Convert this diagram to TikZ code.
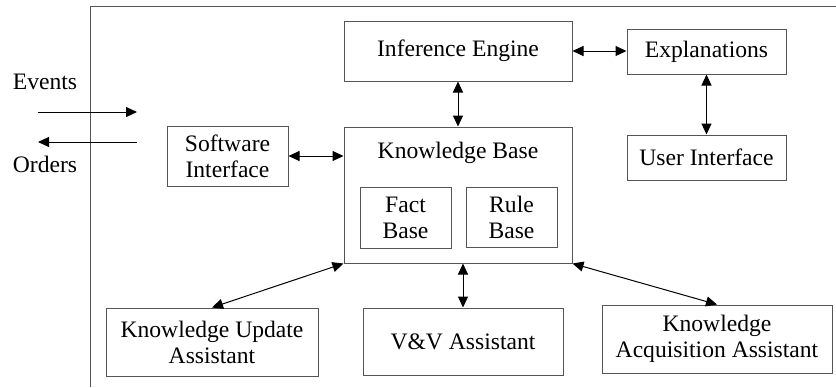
\documentclass[tikz,border=0pt]{standalone}
\usepackage{fontspec}
\setmainfont{Liberation Serif}
\usetikzlibrary{arrows.meta,positioning,calc}
\definecolor{edge}{HTML}{555555}

\begin{document}
\begin{tikzpicture}[
  x=0.5pt, y=-0.5pt,
  every node/.style={font=\fontsize{11.8}{13}\selectfont},
  block/.style={
    draw=edge, line width=0.5pt, align=center, inner sep=1pt
  },
  arr/.style={{Triangle[length=5.5pt,width=5pt]}-{Triangle[length=5.5pt,width=5pt]}, line width=0.5pt, draw=black},
  io/.style={-{Triangle[length=5.5pt,width=5pt]}, line width=0.5pt, draw=black}
]
  \useasboundingbox (0,0) rectangle (836,387);
  % open frame of the system
  \draw[edge, line width=0.5pt] (90,387) -- (90,6) -- (836,6);

  \node[block, minimum width=114pt, minimum height=30pt] (engine) at (458,51) {Inference Engine};
  \node[block, minimum width=79.5pt, minimum height=22.5pt] (expl) at (706.5,51.5) {Explanations};
  \node[block, minimum width=79.5pt, minimum height=22.5pt] (ui) at (706.5,157.5) {User Interface};
  \node[block, minimum width=60.5pt, minimum height=30pt] (soft) at (227.5,156) {Software\\Interface};
  \node[block, minimum width=114pt, minimum height=68pt] (kb) at (458,195) {};
  \node (kbtitle) at (458,153) {Knowledge Base};
  \node[block, minimum width=45.5pt, minimum height=30.5pt] (fact) at (405.5,217.5) {Fact\\Base};
  \node[block, minimum width=45.5pt, minimum height=30pt] (rule) at (511.5,217) {Rule\\Base};
  \node[block, minimum width=106pt, minimum height=34pt] (update) at (212,342) {Knowledge Update\\Assistant};
  \node[block, minimum width=100pt, minimum height=33.5pt] (vv) at (463,341.5) {V\&V Assistant};
  \node[block, minimum width=115pt, minimum height=34pt] (acq) at (717,339) {Knowledge\\Acquisition Assistant};

  \node (events) at (45,82) {Events};
  \node (orders) at (45,164) {Orders};
  \coordinate (evout) at (38,112);
  \coordinate (evin)  at (137,112);
  \coordinate (orout) at (38,142);
  \coordinate (orin)  at (137,142);

  \draw[io] (evout) -- (evin);
  \draw[io] (orin) -- (orout);

  \draw[arr] (engine.south) -- (kb.north);
  \draw[arr] (engine.east) -- (expl.west |- engine.east);
  \draw[arr] (expl.south) -- (ui.north);
  \draw[arr] (soft.east) -- (soft.east -| kb.west);
  \draw[arr] (kb.south west) -- (update.north);
  \draw[arr] (vv.north |- kb.south) -- (vv.north);
  \draw[arr] (kb.south east) -- (acq.north);
\end{tikzpicture}
\end{document}
